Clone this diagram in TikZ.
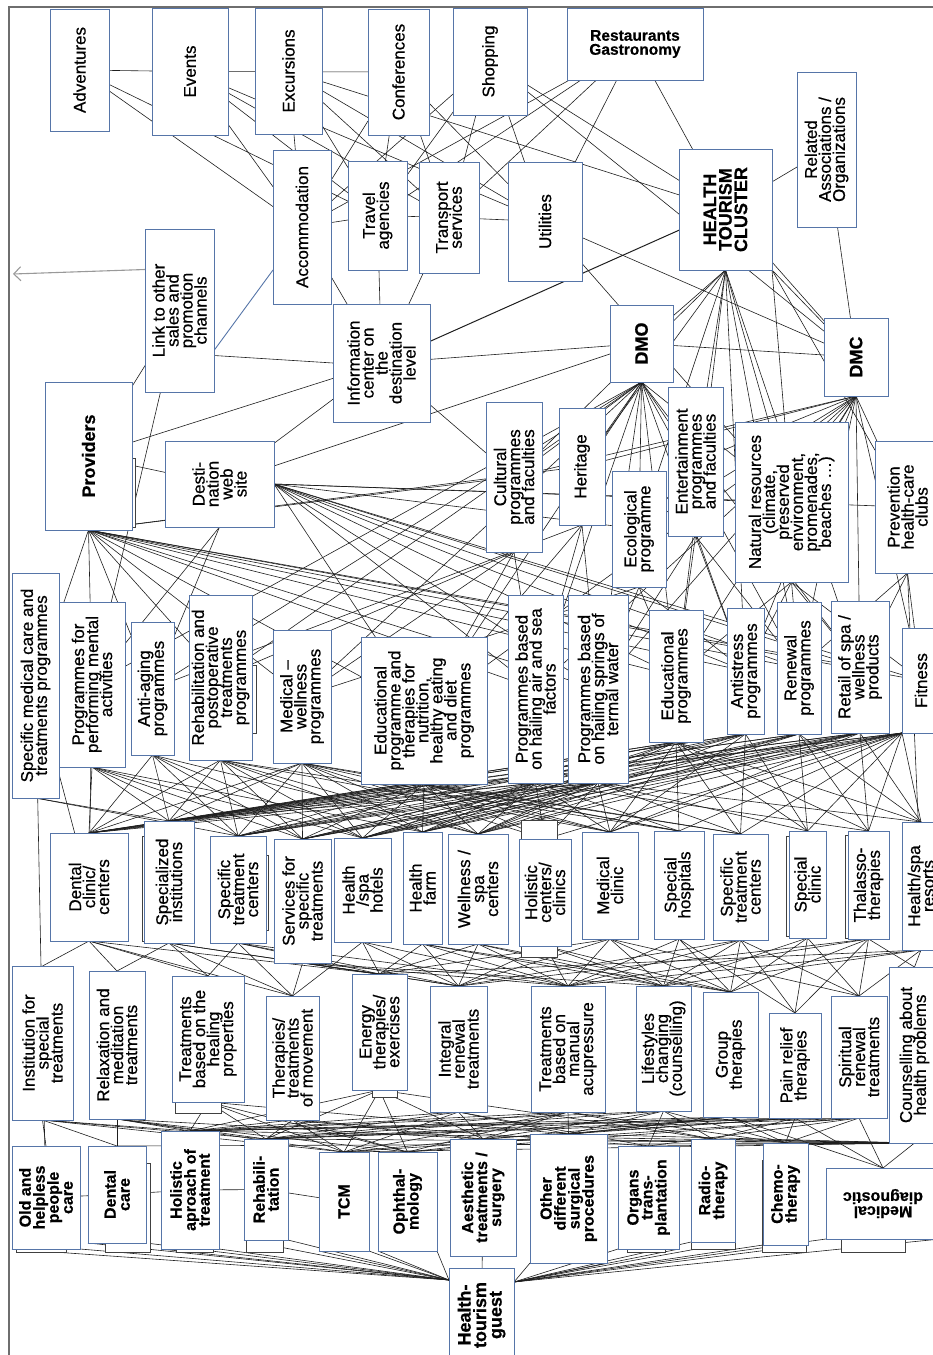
\documentclass[tikz,border=0pt]{standalone}
\usepackage{fontspec}
\setmainfont{Liberation Sans}[FakeBold=0.6]
\usetikzlibrary{arrows.meta}
\pgfdeclarelayer{bg}\pgfdeclarelayer{mid}\pgfsetlayers{bg,mid,main}
\definecolor{boxblue}{RGB}{86,117,168}
\definecolor{edgecol}{RGB}{30,30,30}
\definecolor{framecol}{RGB}{110,110,110}
\tikzset{
 box/.style={draw=boxblue, fill=white, line width=0.9pt, inner sep=0pt, outer sep=0pt},
 txh/.style={align=center, inner sep=0pt, font=\fontsize{17}{14}\selectfont},
 tx/.style={txh, rotate=90},
 bold/.style={font=\fontsize{16}{14}\selectfont\bfseries},
 big/.style={font=\fontsize{18}{15.5}\selectfont\bfseries},
 edge/.style={draw=edgecol, line width=0.6pt},
 blueline/.style={draw=boxblue, line width=0.9pt},
 arrowline/.style={draw=gray!80, line width=1.1pt, -{Straight Barb[length=7pt,width=14pt]}},
 shadowbox/.style={draw=black!75, fill=white, line width=0.8pt},
}
\newcommand\bxn[7][]{%
 \pgfmathsetmacro\bxw{#5-#3}\pgfmathsetmacro\bxh{#6-#4}%
 \pgfmathsetmacro\bxx{(#3+#5)/2}\pgfmathsetmacro\bxy{(#4+#6)/2}%
 \node[box, minimum width=\bxw pt, minimum height=\bxh pt] (#2) at (\bxx,\bxy) {};
 \node[tx,#1] (#2-t) at (#2) {#7};}
\begin{document}
\lineskiplimit=-50pt\relax
\lineskip=0pt\relax
\begin{tikzpicture}[x=1pt,y=-1pt]
\useasboundingbox (0,0) rectangle (933,1355);
\clip (0,0) rectangle (933,1355);
\draw[framecol, line width=1.4pt] (9,1360) -- (9,7) -- (940,7);

% ---------- top cluster ----------
\bxn{adv}{50}{9}{109}{131}{Adventures}
\bxn{evt}{152}{8}{228}{135}{Events}
\bxn{exc}{255}{8}{322}{134}{Excursions}
\bxn{conf}{368}{9}{429}{135}{Conferences}
\bxn{shop}{453}{8}{527}{115}{Shopping}
\node[box, minimum width=136pt, minimum height=72pt] (rest) at (635,44) {};
\node[txh, font=\fontsize{15.5}{14}\selectfont\bfseries] (rest-t) at (rest) {Restaurants\\Gastronomy};
\bxn{assoc}{797}{72}{856}{227}{Related\\Associations /\\Organizations}
\bxn[big]{htc}{679}{149}{772}{270}{HEALTH\\TOURISM\\CLUSTER}
\bxn{util}{508}{162}{582}{281}{Utilities}
\bxn{trans}{419}{162}{479}{273}{Transport\\services}
\bxn{travel}{348}{161}{407}{270}{Travel\\agencies}
\bxn{accom}{273}{150}{331}{304}{Accommodation}
\bxn{link}{145}{229}{214}{392}{Link to other\\sales and\\promotion\\channels}
\bxn{info}{333}{304}{430}{422}{Information\\center on\\the\\destination\\level}
\bxn[big]{prov}{45}{382}{132}{530}{Providers}
\bxn{web}{165}{441}{274}{527}{Desti-\\nation\\web\\site}
\bxn[big]{dmo}{610}{305}{673}{382}{DMO}
\bxn[big]{dmc}{824}{318}{888}{396}{DMC}
\bxn{cult}{486}{402}{542}{552}{Cultural\\programmes\\and faculties}
\bxn{herit}{559}{408}{605}{525}{Heritage}
\bxn{eco}{612}{471}{666}{587}{Ecological\\programme}
\bxn{ent}{668}{387}{723}{536}{Entertainment\\programmes\\and faculties}
\bxn{nat}{735}{422}{848}{582}{Natural resources\\(climate,\\preserved\\environment,\\promenades,\\beaches …)}
\bxn{prev}{875}{441}{940}{573}{Prevention\\health-care\\clubs}

% ---------- programmes ----------
\bxn{smc}{12}{573}{59}{798}{Specific medical care and\\treatments programmes}
\bxn{pma}{59}{602}{125}{767}{Programmes for\\performing mental\\activities}
\bxn{anti}{131}{622}{174}{755}{Anti-aging\\programmes}
\bxn{rehp}{189}{595}{252}{760}{Rehabilitation and\\postoperative\\treatments\\programmes}
\bxn{mwp}{273}{630}{331}{763}{Medical –\\wellness\\programmes}
\bxn{edn}{361}{637}{487}{784}{Educational\\programme and\\therapies for\\nutrition,\\healthy eating\\and diet\\programmes}
\bxn{pas}{508}{595}{563}{783}{Programmes based\\on hailing air and sea\\factors}
\bxn{pst}{568}{595}{628}{783}{Programmes based\\on hailing springs of\\termal water}
\bxn{edp}{649}{610}{703}{742}{Educational\\programmes}
\bxn{ast}{727}{608}{764}{734}{Antistress\\programmes}
\bxn{ren}{777}{602}{821}{734}{Renewal\\programmes}
\bxn{ret}{831}{601}{889}{733}{Retail of spa /\\wellness\\products}
\bxn{fit}{902}{628}{940}{733}{Fitness}

% ---------- facilities ----------
\bxn{dcc}{50}{833}{128}{941}{Dental\\clinic/\\centers}
\bxn{spi}{144}{821}{194}{943}{Specialized\\institutions}
\bxn{stc}{210}{836}{266}{943}{Specific\\treatment\\centers}
\bxn{sst}{274}{839}{331}{963}{Services for\\specific\\treatments}
\bxn{hsh}{334}{838}{391}{942}{Health\\/spa\\hotels}
\bxn{hf}{403}{832}{442}{944}{Health\\farm}
\bxn{wsc}{448}{834}{508}{944}{Wellness /\\spa\\centers}
\bxn{hcc}{519}{839}{571}{946}{Holistic\\centers/\\clinics}
\bxn{mc}{582}{832}{638}{939}{Medical\\clinic}
\bxn{sh}{654}{831}{704}{939}{Special\\hospitals}
\bxn{stcb}{713}{834}{768}{940}{Specific\\treatment\\centers}
\bxn{scl}{789}{831}{826}{938}{Special\\clinic}
\bxn{thal}{848}{831}{889}{939}{Thalasso-\\therapies}
\bxn{hsr}{902}{822}{940}{950}{Health/spa\\resorts}

% ---------- treatments ----------
\bxn{ist}{12}{966}{73}{1120}{Institution for\\special\\treatments}
\bxn{rmt}{89}{971}{145}{1119}{Relaxation and\\meditation\\treatments}
\bxn{thp}{172}{976}{244}{1102}{Treatments\\based on the\\healing\\properties}
\bxn{tmv}{266}{996}{319}{1120}{Therapies/\\treatments\\of movement}
\bxn{ete}{352}{974}{407}{1090}{Energy\\therapies/\\exercises}
\bxn{irt}{430}{986}{487}{1112}{Integral\\renewal\\treatments}
\bxn{tma}{531}{986}{605}{1112}{Treatments\\based on\\manual\\acupressure}
\bxn{lsc}{636}{986}{691}{1111}{Lifestyles\\changing\\(counselling)}
\bxn{grp}{703}{992}{758}{1117}{Group\\therapies}
\bxn{prt}{769}{1013}{821}{1118}{Pain relief\\therapies}
\bxn{srt}{831}{996}{887}{1118}{Spiritual\\renewal\\treatments}
\bxn{chp}{889}{967}{940}{1143}{Counselling about\\health problems}

% ---------- services ----------
\bxn[bold]{ohp}{12}{1146}{80}{1249}{Old and\\helpless\\people\\care}
\bxn[bold]{dc}{88}{1146}{146}{1243}{Dental\\care}
\bxn[bold]{hat}{161}{1131}{219}{1249}{Holistic\\aproach of\\treatment}
\bxn[bold]{reh}{244}{1139}{288}{1240}{Rehabili-\\tation}
\bxn[bold]{tcm}{319}{1152}{369}{1251}{TCM}
\bxn[bold]{oph}{378}{1152}{437}{1251}{Ophthal-\\mology}
\bxn[bold]{aes}{450}{1139}{516}{1256}{Aesthetic\\treatments /\\surgery}
\bxn[bold]{ods}{530}{1134}{607}{1263}{Other\\different\\surgical\\procedures}
\bxn[bold]{org}{618}{1146}{679}{1249}{Organs\\trans-\\plantation}
\bxn[bold]{rad}{691}{1139}{735}{1242}{Radio-\\therapy}
\bxn[bold]{che}{763}{1143}{808}{1245}{Chemo-\\therapy}
\node[box, minimum width=114pt, minimum height=71pt] (md) at (883,1203.5) {};
\node[txh, bold, rotate=180] (md-t) at (md) {Medical\\diagnostic};
\bxn[big]{guest}{449}{1268}{514}{1362}{Health-\\tourism\\guest}

% ---------- shadows ----------
\begin{pgfonlayer}{mid}
\foreach \xa/\ya/\xb/\yb in {521/820/557/957, 105/1163/150/1252, 16/1240/66/1252, 176/1240/213/1252,
  246/1235/283/1252, 627/1240/665/1252, 691/1235/735/1249, 762/1160/806/1252, 841/1230/905/1252,
  175/1095/221/1113, 142/836/150/941, 260/855/268/930, 845/835/851/938, 250/665/256/733, 126/458/135/527,
  786/836/792/936, 372/1085/397/1097}
  \draw[shadowbox] (\xa,\ya) rectangle (\xb,\yb);
\end{pgfonlayer}

% ---------- connectors ----------
\begin{pgfonlayer}{bg}
\coordinate (arrowend) at (13,274);
\draw[arrowline] ([yshift=41pt]link.west) -- (arrowend);
\draw[blueline] ([yshift=-40pt]link.east) -- ([yshift=-43pt]accom.west);
\draw[edge] ([yshift=-45pt]link.east) -- (info.west);
\foreach \a/\b in {adv/accom,adv/travel,evt/accom,evt/travel,evt/trans,evt/util,exc/accom,exc/travel,
  exc/trans,exc/util,exc/htc,conf/accom,conf/travel,conf/trans,conf/util,shop/accom,shop/travel,
  shop/trans,shop/util,shop/htc,shop/dmc,rest/accom,rest/travel,rest/trans,rest/util,rest/htc,
  accom/travel,travel/trans,trans/util,accom/info,travel/info,trans/info,info/dmo,
  info/prov,info/web,web/dmo,htc/assoc,assoc/dmc,util/dmc,util/nat,htc/dmc,dmo/dmc,prov/web,
  link/prov,link/pma,info/cult,evt/conf,adv/evt}
  \draw[edge] (\a) -- (\b);
\draw[edge, line width=1pt] (info) -- (htc);
% fans from the destination level
\foreach \b in {dmo,ent,eco,herit,nat,edp,ast,ren,cult,ret}
  \draw[edge] (htc.south) -- (\b);
\foreach \b in {dmc,nat,prev}
  \draw[edge] (htc.south east) -- (\b);
\foreach \b in {cult,herit,eco,ent,nat,edp,ast,ren,pas,pst,edn,mwp,rehp,anti,pma,ret}
  \draw[edge] (dmo.south) -- (\b);
\foreach \b in {nat,prev,ent,eco,herit,cult,ast,ren,ret,fit,edp,pst,pas,edn}
  \draw[edge] (dmc.south) -- (\b);
\foreach \b in {smc,pma,anti,rehp,mwp,edn,pas,pst,edp,ast,ren,ret,fit,cult,herit}
  \draw[edge] (prov.south) -- (\b);
\foreach \b in {pas,pst,edp,ast,ren,ret,fit,nat,prev,eco,edn}
  \draw[edge] (web.east) -- (\b);
\foreach \b in {pma,anti}
  \draw[edge] (web.south) -- (\b);
\foreach \a/\bs in {cult/{mwp,edn,pas,rehp}, herit/{edn,pas,pst,anti}, eco/{pst,edp,ast,mwp},
  ent/{edp,ast,ren,pst}, nat/{ast,ren,ret,fit,edp}, prev/{fit,ret,ren,hsr}}
  {\foreach \b in \bs {\draw[edge] (\a.south) -- (\b);}}
% programmes -> facilities
\foreach \a/\bs in {
  smc/{spi,stc},
  pma/{dcc,spi,stc,sst,hsh,hf},
  anti/{dcc,spi,stc,hsh,sst,wsc},
  rehp/{dcc,spi,stc,sst,mc,sh,hsh,hf,wsc},
  mwp/{dcc,spi,stc,sst,hsh,hf,wsc,hcc,mc,sh,stcb},
  edn/{dcc,spi,stc,sst,hsh,hf,wsc,hcc,mc,sh,stcb},
  pas/{dcc,spi,stc,sst,hsh,hf,wsc,hcc,thal,mc,sh},
  pst/{dcc,spi,stc,sst,hsh,hf,wsc,hcc,hsr,mc,stcb,scl},
  edp/{dcc,spi,stc,hsh,hf,wsc,mc,sh,stcb,scl,thal,hsr},
  ast/{dcc,spi,stc,sst,hsh,wsc,mc,stcb,scl},
  ren/{dcc,spi,sst,hsh,hf,wsc,scl,thal,hsr},
  ret/{dcc,spi,stc,sst,hsh,hf,wsc,mc,thal,hsr}}
  {\foreach \b in \bs {\draw[edge] (\a.south) -- (\b.north);}}
\foreach \b in {dcc,spi,stc,sst,hsh,hf,wsc,hcc,mc,sh,stcb,scl,thal,hsr}
  \draw[edge] (fit.south west) -- (\b.north);
% facilities -> treatments
\foreach \a/\bs in {
  dcc/{ist,rmt,thp,tmv,ete},
  spi/{thp,rmt,tmv,ete,irt},
  stc/{tmv,thp,ete,irt,tma},
  sst/{tmv,ete,irt,tma,lsc},
  hsh/{ete,irt,tma,tmv},
  hf/{ete,irt,tma,lsc,grp},
  wsc/{irt,tma,lsc,ete,grp},
  hcc/{tma,lsc,irt,grp},
  mc/{tma,lsc,grp,irt,ete,srt},
  sh/{lsc,grp,tma,prt},
  stcb/{grp,prt,srt,lsc,tma,irt},
  scl/{prt,srt,grp,lsc},
  thal/{srt,prt,chp,grp,irt,tma},
  hsr/{chp,srt,tma,lsc,ete}}
  {\foreach \b in \bs {\draw[edge] (\a.south) -- (\b.north);}}
% treatments -> services
\foreach \a/\bs in {
  ist/{ohp,dc,hat,reh,tcm},
  rmt/{dc,hat,reh,tcm,oph,aes},
  thp/{hat,reh,tcm,oph,ods},
  tmv/{reh,hat,tcm,oph,aes,org},
  ete/{hat,reh,tcm,oph,aes,rad},
  irt/{hat,reh,tcm,aes,ods,org},
  tma/{hat,reh,tcm,oph,aes,ods,rad,che},
  lsc/{hat,reh,aes,ods,org,rad,che},
  grp/{hat,reh,tcm,oph,che,md,ods},
  prt/{hat,reh,aes,ods,rad,che,md},
  srt/{hat,reh,oph,org,che,md,tcm},
  chp/{hat,reh,tcm,aes,ods,org,rad,che,md,dc}}
  {\foreach \b in \bs {\draw[edge] (\a.south) -- (\b.north);}}
% vertical and horizontal links
\foreach \a/\b in {smc/ist,smc/dcc,pma/dcc,ist/ohp,rmt/dc,ohp/dc,dc/hat,hat/reh,reh/tcm,aes/guest}
  \draw[edge] (\a) -- (\b);
% services -> guest
\coordinate (gl) at ([yshift=-12pt]guest.north west);
\coordinate (gr) at ([yshift=-14pt]guest.north east);
\foreach \a in {ohp,dc,hat,reh,tcm,oph}
  {\draw[edge] (\a.south west) -- (gl); \draw[edge] (\a.south east) -- (gl);}
\foreach \a in {ods,org,rad,che,md}
  {\draw[edge] (\a.south west) -- (gr); \draw[edge] (\a.south east) -- (gr);}
\end{pgfonlayer}
\end{tikzpicture}
\end{document}
